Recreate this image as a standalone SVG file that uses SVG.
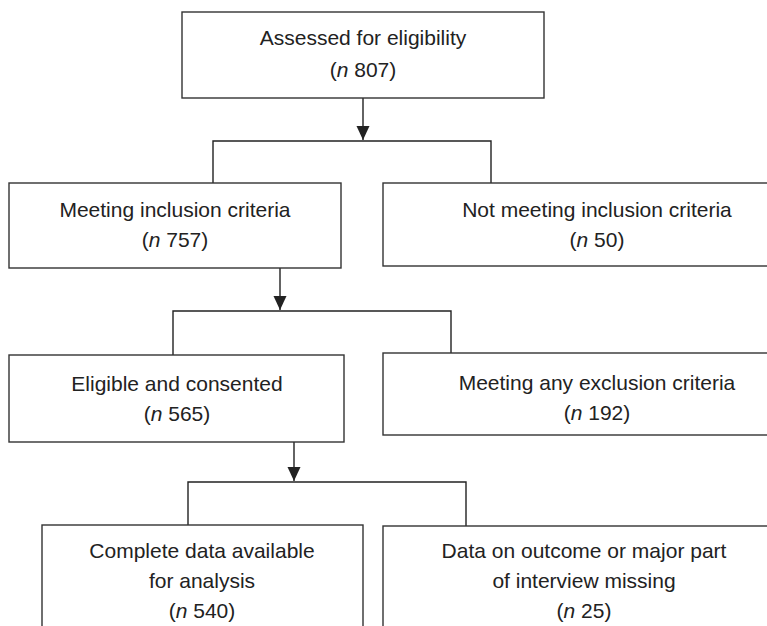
<svg xmlns="http://www.w3.org/2000/svg" width="767" height="626" viewBox="0 0 767 626">
<style>
.box{fill:#fff;stroke:#333;stroke-width:1.4}
.conn{fill:none;stroke:#222;stroke-width:1.4}
text{font-family:"Liberation Sans",Arial,sans-serif;font-size:21px;fill:#222;text-anchor:middle}
.i{font-style:italic}
</style>
<defs>
<marker id="ah" markerUnits="userSpaceOnUse" markerWidth="16" markerHeight="14" refX="14" refY="6.5" orient="auto">
<path d="M0,0 L14,6.5 L0,13 Z" fill="#222"/>
</marker>
</defs>
<rect width="767" height="626" fill="#fff"/>
<g id="connectors">
<line class="conn" x1="363" y1="98" x2="363" y2="140" marker-end="url(#ah)"/>
<polyline class="conn" points="213,183 213,141 491,141 491,183"/>
<line class="conn" x1="280" y1="268" x2="280" y2="310" marker-end="url(#ah)"/>
<polyline class="conn" points="173,355 173,311 451,311 451,353"/>
<line class="conn" x1="294" y1="442" x2="294" y2="481" marker-end="url(#ah)"/>
<polyline class="conn" points="188,525 188,482 466,482 466,526"/>
</g>
<g id="assessed">
<rect class="box" x="182" y="12" width="362" height="86"/>
<text x="363" y="45">Assessed for eligibility</text>
<text x="363" y="77">(<tspan class="i">n</tspan> 807)</text>
</g>
<g id="meeting-inclusion">
<rect class="box" x="9" y="183" width="332" height="85"/>
<text x="175" y="217">Meeting inclusion criteria</text>
<text x="175" y="247">(<tspan class="i">n</tspan> 757)</text>
</g>
<g id="not-meeting-inclusion">
<rect class="box" x="383" y="183" width="428" height="83"/>
<text x="597" y="217">Not meeting inclusion criteria</text>
<text x="597" y="247">(<tspan class="i">n</tspan> 50)</text>
</g>
<g id="eligible">
<rect class="box" x="9" y="355" width="335" height="87"/>
<text x="177" y="391">Eligible and consented</text>
<text x="177" y="421">(<tspan class="i">n</tspan> 565)</text>
</g>
<g id="exclusion">
<rect class="box" x="383" y="353" width="428" height="82"/>
<text x="597" y="390">Meeting any exclusion criteria</text>
<text x="597" y="420">(<tspan class="i">n</tspan> 192)</text>
</g>
<g id="complete">
<rect class="box" x="42" y="525" width="321" height="120"/>
<text x="202" y="558">Complete data available</text>
<text x="202" y="588">for analysis</text>
<text x="202" y="618">(<tspan class="i">n</tspan> 540)</text>
</g>
<g id="missing">
<rect class="box" x="383" y="526" width="402" height="120"/>
<text x="584" y="558">Data on outcome or major part</text>
<text x="584" y="588">of interview missing</text>
<text x="584" y="618">(<tspan class="i">n</tspan> 25)</text>
</g>
</svg>
